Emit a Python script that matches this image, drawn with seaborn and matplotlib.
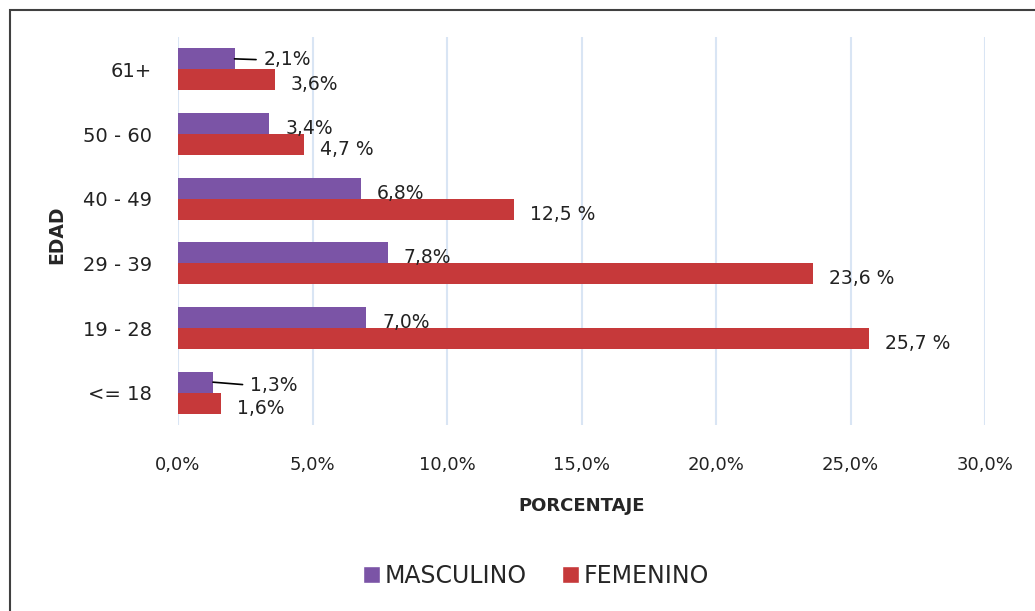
import numpy as np
import pandas as pd
import matplotlib
matplotlib.use('Agg')
import matplotlib.pyplot as plt
from matplotlib.patches import Rectangle, Patch
import seaborn as sns

edades = ['61+', '50 - 60', '40 - 49', '29 - 39', '19 - 28', '<= 18']
masculino = [2.1, 3.4, 6.8, 7.8, 7.0, 1.3]
femenino = [3.6, 4.7, 12.5, 23.6, 25.7, 1.6]
etiquetas_masc = ['2,1%', '3,4%', '6,8%', '7,8%', '7,0%', '1,3%']
etiquetas_fem = ['3,6%', '4,7 %', '12,5 %', '23,6 %', '25,7 %', '1,6%']
xticks = [0, 5, 10, 15, 20, 25, 30]
xtick_labels = ['0,0%', '5,0%', '10,0%', '15,0%', '20,0%', '25,0%', '30,0%']
series = ['MASCULINO', 'FEMENINO']
colores = ['#7B54A6', '#C6393A']

df = pd.DataFrame({
    'edad': edades * 2,
    'sexo': [series[0]] * len(edades) + [series[1]] * len(edades),
    'pct': masculino + femenino,
})

sns.set_style('white')
plt.rcParams['font.family'] = ['DejaVu Sans']

fig = plt.figure(figsize=(10.35, 6.11), dpi=100)
ax = fig.add_axes([0.172, 0.3044, 0.7797, 0.635])

sns.barplot(data=df, x='pct', y='edad', hue='sexo', order=edades, hue_order=series,
            palette=colores, orient='h', width=0.65, saturation=1, linewidth=0,
            ax=ax, legend=False)

ax.set_xlim(0, 30)
ax.set_xticks(xticks)
ax.set_xticklabels(xtick_labels, fontsize=13, color='#222222')
ax.tick_params(axis='x', length=0, pad=22)
ax.tick_params(axis='y', length=0, pad=19, labelsize=14, labelcolor='#222222')
ax.grid(axis='x', color='#D9E5F4', linewidth=1.5)
ax.set_axisbelow(True)
for s in ax.spines.values():
    s.set_visible(False)

ax.set_xlabel('PORCENTAJE', fontsize=13, fontweight='bold')
ax.xaxis.set_label_coords(0.5, -0.186)
ax.set_ylabel('EDAD', fontsize=13.5, fontweight='bold')
ax.yaxis.set_label_coords(-0.139, 0.49)

# etiquetas de datos
especiales = {(0, 0): (29, -1), (0, 5): (37, -3)}
for k, (cont, textos) in enumerate(zip(ax.containers, [etiquetas_masc, etiquetas_fem])):
    for i, (bar, txt) in enumerate(zip(cont, textos)):
        x = bar.get_width()
        y = bar.get_y() + bar.get_height() / 2
        if (k, i) in especiales:
            dx, dy = especiales[(k, i)]
            ax.annotate(txt, xy=(x, y), xytext=(dx, dy), textcoords='offset pixels',
                        ha='left', va='center', fontsize=13.5, color='#222222',
                        arrowprops=dict(arrowstyle='-', color='black', lw=1.2,
                                        relpos=(0, 0.5), shrinkA=3, shrinkB=0))
        else:
            ax.annotate(txt, xy=(x, y), xytext=(16, -5), textcoords='offset pixels',
                        ha='left', va='center', fontsize=13.5, color='#222222')

handles = [Patch(facecolor=c, label=l) for c, l in zip(colores, series)]
fig.legend(handles=handles, loc='center', bbox_to_anchor=(536 / 1035, 1 - 576 / 611),
           ncol=2, frameon=False, handlelength=0.7, handleheight=0.7, handletextpad=0.2,
           columnspacing=1.5, prop={'size': 17})

fig.patches.append(Rectangle((10 / 1035, -0.05), 1.2, 1 - 10 / 611 + 0.05,
                             transform=fig.transFigure, fill=False,
                             edgecolor='#404040', linewidth=1.5))

fig.savefig('out.png', dpi=100)
